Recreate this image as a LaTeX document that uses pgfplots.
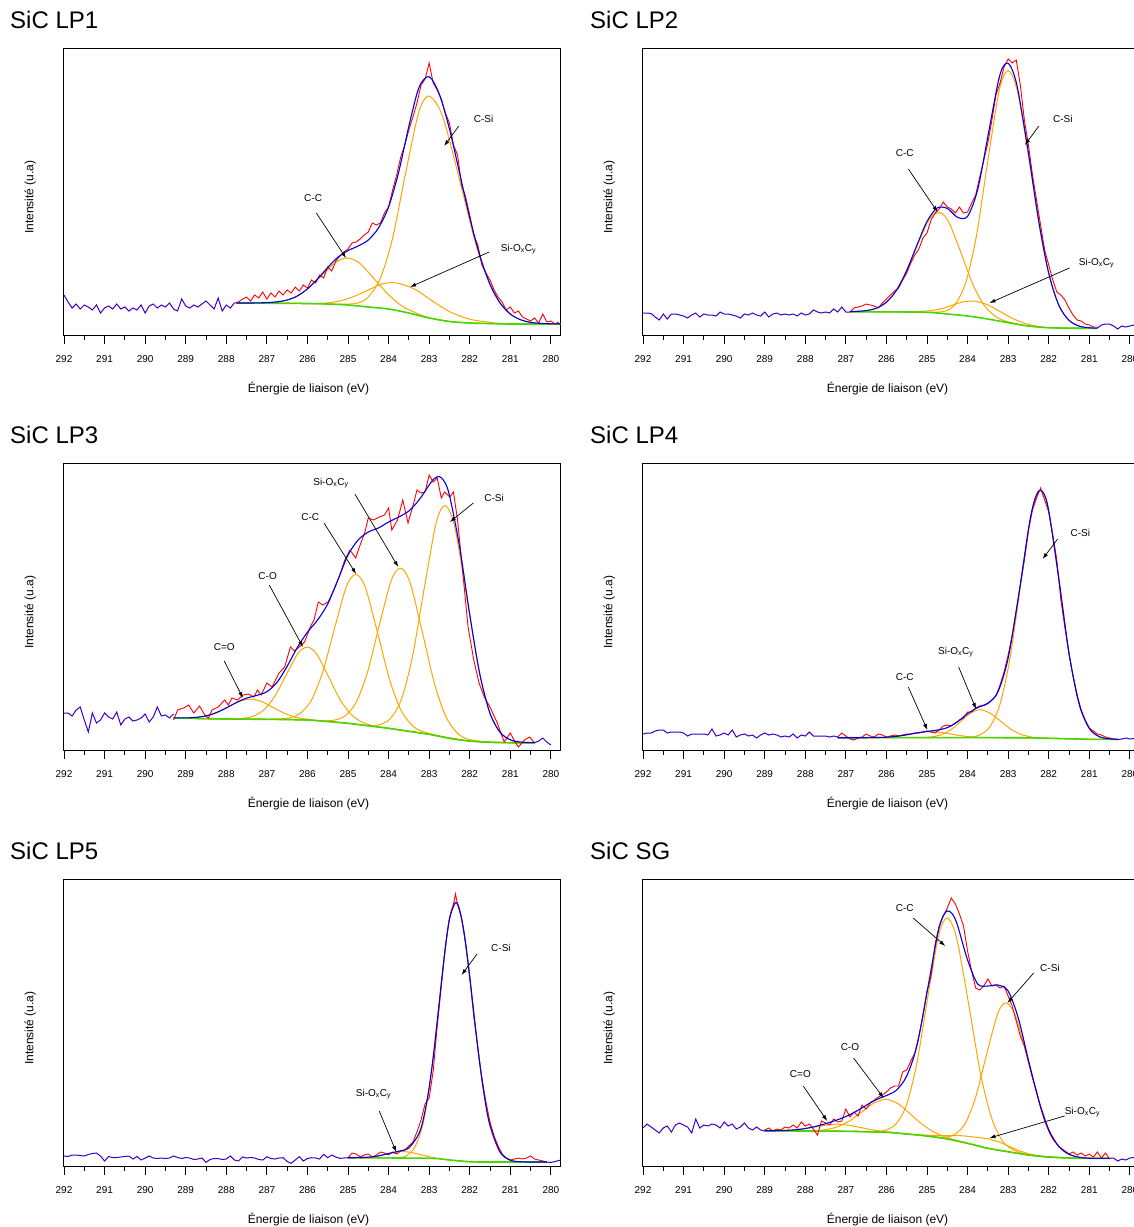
\documentclass[border=0pt]{standalone}
\usepackage{fontspec}
\setmainfont{Liberation Sans}
\usepackage{pgfplots}
\pgfplotsset{compat=1.18}
\usetikzlibrary{arrows.meta}
\definecolor{cred}{RGB}{255,0,0}
\definecolor{cblue}{RGB}{0,0,230}
\definecolor{cnoise}{RGB}{60,0,200}
\definecolor{corange}{RGB}{255,165,0}
\definecolor{cgreen}{RGB}{70,215,0}
\pgfplotsset{
  panel/.style={
    anchor=south west,
    width=497pt, height=287pt, scale only axis,
    xmin=279.75, xmax=292, x dir=reverse,
    ymin=0, ymax=287,
    xtick={280,281,...,292},
    minor x tick num=1,
    ytick=\empty,
    xtick pos=left,
    tick align=outside,
    major tick length=9pt, minor tick length=5pt,
    tick style={black, line width=0.8pt},
    axis line style={line width=1pt},
    xticklabel style={font=\fontsize{10}{12}\selectfont, anchor=north, yshift=-8pt},
    /pgf/number format/assume math mode=true,
    xlabel={Énergie de liaison (eV)},
    ylabel={Intensité (u.a)},
    xlabel style={font=\fontsize{12}{14}\selectfont, at={(axis description cs:0.492,-0.185)}, anchor=center},
    ylabel style={font=\fontsize{12}{14}\selectfont, at={(axis description cs:-0.068,0.48)}, anchor=center},
  },
  comp/.style={corange, line width=1pt, smooth},
  bgl/.style={cgreen, line width=1.6pt, smooth},
  dat/.style={cred, line width=0.9pt},
  env/.style={cblue, line width=1.1pt, smooth},
  noi/.style={cnoise, line width=1pt},
}
\tikzset{
  ann/.style={font=\fontsize{10}{12}\selectfont},
  arr/.style={-{Latex[length=6pt,width=4pt]}, line width=0.7pt},
  ttl/.style={anchor=west, font=\fontsize{24}{28}\selectfont, inner sep=0pt},
}
\begin{document}
\begin{tikzpicture}
\useasboundingbox (0pt,0pt) rectangle (1134pt,-1227pt);
\clip (0pt,0pt) rectangle (1134pt,-1227pt);
\node[ttl] at (10pt,-20pt) {SiC LP1};
\node[ttl] at (590pt,-20pt) {SiC LP2};
\node[ttl] at (10pt,-435pt) {SiC LP3};
\node[ttl] at (590pt,-435pt) {SiC LP4};
\node[ttl] at (10pt,-851pt) {SiC LP5};
\node[ttl] at (590pt,-851pt) {SiC SG};

% ---------------- LP1 ----------------
\begin{axis}[panel, at={(64pt,-335pt)}]
\addplot[comp] coordinates {(287.75,32) (286.5,31.8) (285.4,30.9) (284.8,31.6) (284.5,38) (284.2,57) (283.9,97) (283.6,158) (283.3,216) (283.15,233.4) (283.0,239) (282.8,230.3) (282.6,210) (282.2,147) (281.8,84) (281.4,41.5) (281.0,21) (280.6,13.4) (280.2,11.1) (279.75,11)};
\addplot[comp] coordinates {(287.75,32) (287,32) (286.625,33.7) (286.3,37.8) (285.975,46.8) (285.65,59.5) (285.325,72) (285.16,75.8) (285,77) (284.84,74.9) (284.675,70.5) (284.35,56) (284.025,41.3) (283.7,29.8) (283.375,23) (283.05,17.9) (282.5,13.5) (282,12) (281,11) (279.75,11)};
\addplot[comp] coordinates {(287.75,32) (286.5,31.8) (285.9,31.3) (285.55,31.9) (285.2,34.1) (284.85,38.6) (284.5,45) (284.15,51.2) (283.8,52) (283.35,45.7) (282.9,33.5) (282.45,22.4) (282,15.8) (281.55,12.9) (281.1,11.3) (279.75,11)};
\addplot[bgl] coordinates {(287.75,32) (286,31.5) (285.5,31) (285,30) (284.5,28) (284,26) (283.5,22) (283,17) (282.5,13.5) (282,12) (281.5,11.5) (281,11) (279.75,11)};
\addplot[dat] coordinates {(287.8,32) (287.7,33) (287.6,36) (287.5,38) (287.4,34) (287.3,40) (287.2,37) (287.1,43) (287.0,36) (286.9,42) (286.8,38) (286.7,44) (286.6,40) (286.5,45) (286.4,42) (286.3,48) (286.2,44) (286.1,50) (286.0,47) (285.9,55) (285.8,52) (285.7,60) (285.6,57) (285.5,68) (285.4,64) (285.3,74) (285.2,79) (285.1,83) (285.0,86) (284.9,92) (284.8,93) (284.7,96) (284.6,100) (284.5,103) (284.4,112) (284.3,110) (284.2,112) (284.1,122) (284.0,128) (283.9,145) (283.8,160) (283.7,178) (283.6,190) (283.5,205) (283.4,218) (283.3,232) (283.2,250) (283.1,256) (283.0,272) (282.9,252) (282.8,245) (282.7,236) (282.6,222) (282.5,212) (282.4,190) (282.3,180) (282.2,150) (282.1,138) (282.0,120) (281.9,100) (281.8,90) (281.7,70) (281.6,62) (281.5,55) (281.4,45) (281.3,38) (281.2,33) (281.1,25) (281.0,28) (280.9,22) (280.8,24) (280.7,18) (280.6,16) (280.5,14) (280.4,17) (280.3,12) (280.2,21) (280.1,13) (280.0,14) (279.9,11) (279.8,13)};
\addplot[noi] coordinates {(292.0,40) (291.9,33) (291.8,27) (291.7,31) (291.6,26) (291.5,30) (291.4,28) (291.3,25) (291.2,30) (291.1,22) (291.0,27) (290.9,29) (290.8,26) (290.7,31) (290.6,26) (290.5,28) (290.4,24) (290.3,27) (290.2,25) (290.1,30) (290.0,22) (289.9,29) (289.8,31) (289.7,27) (289.6,30) (289.5,28) (289.4,32) (289.3,26) (289.2,24) (289.1,36) (289.0,29) (288.9,27) (288.8,30) (288.7,28) (288.6,31) (288.5,34) (288.4,30) (288.3,26) (288.2,37) (288.1,24) (288.0,30) (287.9,27) (287.8,32)};
\addplot[env] coordinates {(287.75,32) (287.5,32) (287.25,32.1) (287,32.4) (286.75,33.2) (286.5,35) (286.25,39) (286,46.1) (285.75,56) (285.5,67.5) (285.25,77.7) (285,84.4) (284.75,89) (284.5,95) (284.25,107) (284,128) (283.75,163) (283.5,208.8) (283.25,247.5) (283,258.3) (282.75,240.9) (282.5,206.1) (282.25,162.1) (282,117.5) (281.75,79.3) (281.5,50.8) (281.25,32) (281,21) (280.75,15.3) (280.5,12.7) (280.25,11.6) (280,11.2) (279.75,11)};
\node[ann] at (axis cs:281.66,216) {C-Si};
\draw[arr] (axis cs:282.27,209) -- (axis cs:282.63,189);
\node[ann] at (axis cs:285.86,137) {C-C};
\draw[arr] (axis cs:285.78,122) -- (axis cs:285.05,77);
\node[ann] at (axis cs:280.8,86) {Si-O\textsubscript{x}C\textsubscript{y}};
\draw[arr] (axis cs:281.52,83) -- (axis cs:283.47,48);
\end{axis}

% ---------------- LP2 ----------------
\begin{axis}[panel, at={(643pt,-335pt)}]
\addplot[comp] coordinates {(286.9,23.3) (286,23.2) (285,22.7) (284.56,23.8) (284.3,31.1) (284.04,53) (283.78,99.5) (283.52,169.1) (283.26,236.3) (283.13,257.2) (283,264.3) (282.857,255.5) (282.715,232.7) (282.43,161.8) (282.145,89.6) (281.86,41.2) (281.575,18) (281.29,9.6) (281,6.8) (280.8,6.7)};
\addplot[comp] coordinates {(286.9,23.3) (286.5,24.3) (286.2,27.6) (285.9,36.7) (285.6,55.8) (285.3,84.1) (285.0,111.8) (284.85,119.9) (284.7,122.5) (284.5625,119.1) (284.425,109.8) (284.15,80.9) (283.875,51.1) (283.6,30.2) (283.325,19) (283.05,13.7) (282.5,9) (282,7.3) (281,6.7) (280.8,6.7)};
\addplot[comp] coordinates {(286.9,23.3) (286,23.2) (285.5,22.9) (285.175,23.5) (284.9,24.5) (284.625,26.5) (284.35,30.2) (284.075,33.4) (283.8,33.7) (283.5,30.1) (283.2,23.5) (282.9,16.8) (282.6,11.8) (282.3,8.9) (282,7.4) (281,6.7) (280.8,6.7)};
\addplot[bgl] coordinates {(286.9,23.3) (286,23.2) (285,22.7) (284.5,21) (284,19) (283.5,16) (283,12.3) (282.5,9) (282,7.3) (281.5,6.8) (281,6.7) (280.8,6.7)};
\addplot[dat] coordinates {(286.9,23) (286.8,27) (286.7,28) (286.6,29) (286.5,31) (286.4,30) (286.3,29) (286.2,27) (286.1,32) (286.0,36) (285.9,40) (285.8,44) (285.7,47) (285.6,55) (285.5,62) (285.4,72) (285.3,80) (285.2,86) (285.1,97) (285.0,102) (284.9,115) (284.8,122) (284.7,126) (284.6,133) (284.5,128) (284.4,126) (284.3,122) (284.2,128) (284.1,122) (284.0,123) (283.9,132) (283.8,140) (283.7,158) (283.6,175) (283.5,192) (283.4,215) (283.3,240) (283.2,252) (283.1,268) (283.0,276) (282.9,272) (282.8,275) (282.7,250) (282.6,215) (282.5,190) (282.4,160) (282.3,135) (282.2,110) (282.1,85) (282.0,70) (281.9,55) (281.8,43) (281.7,40) (281.6,35) (281.5,27) (281.4,20) (281.3,15) (281.2,14) (281.1,11) (281.0,10) (280.9,8) (280.8,8)};
\addplot[noi] coordinates {(292.0,22) (291.9,22) (291.8,21.5) (291.7,18) (291.6,15) (291.5,21) (291.4,16) (291.3,21) (291.2,21) (291.1,20) (291.0,19) (290.9,17) (290.8,20) (290.7,22) (290.6,18) (290.5,21) (290.4,20) (290.3,20) (290.2,19) (290.1,23) (290.0,21) (289.9,21) (289.8,20) (289.7,19) (289.6,17) (289.5,21) (289.4,20) (289.3,22) (289.2,20) (289.1,19) (289.0,23) (288.9,18) (288.8,21) (288.7,22) (288.6,20) (288.5,21) (288.4,20) (288.3,21) (288.2,19) (288.1,22) (288.0,20) (287.9,21) (287.8,25) (287.7,23) (287.6,22) (287.5,23) (287.4,22) (287.3,26) (287.2,23) (287.1,28) (287.0,23) (286.9,23)};
\addplot[noi] coordinates {(280.8,7) (280.7,10) (280.6,11) (280.5,11) (280.4,9) (280.3,6) (280.2,9) (280.1,8) (280.0,9) (279.9,10) (279.8,11) (279.75,11)};
\addplot[env] coordinates {(286.9,23.4) (286.75,23.6) (286.5,24.4) (286.25,26.8) (286,32.8) (285.75,44.8) (285.5,64.5) (285.25,89.6) (285,113.5) (284.75,127) (284.5,126.6) (284.25,117.8) (284,118.7) (283.75,145.6) (283.5,198.5) (283.25,252.2) (283.125,268.4) (283,271.8) (282.875,262.7) (282.75,243.1) (282.5,182.1) (282.25,114.6) (282,61.7) (281.75,29.7) (281.5,14.7) (281.25,8.9) (281,7.25) (280.8,6.8)};
\node[ann] at (axis cs:281.65,216) {C-Si};
\draw[arr] (axis cs:282.24,209) -- (axis cs:282.59,190);
\node[ann] at (axis cs:285.55,182) {C-C};
\draw[arr] (axis cs:285.46,166) -- (axis cs:284.74,123);
\node[ann] at (axis cs:280.82,72) {Si-O\textsubscript{x}C\textsubscript{y}};
\draw[arr] (axis cs:281.49,67) -- (axis cs:283.46,32);
\end{axis}

% ---------------- LP3 ----------------
\begin{axis}[panel, at={(64pt,-750pt)}]
\addplot[comp] coordinates {(289.3,32) (289.05,32) (288.775,32.5) (288.5,34.1) (288.225,37.7) (287.95,43.1) (287.675,48.5) (287.4,50.9) (287.125,48.4) (286.85,42.7) (286.575,36.9) (286.3,32.9) (286.025,30.9) (285.75,29.5) (285,26.7) (284,21.7) (283,15.7) (282,9) (281,7.3) (280.4,7.3)};
\addplot[comp] coordinates {(289.3,32) (288,31) (287.59,31.7) (287.325,34) (287.06,40.6) (286.795,54.3) (286.53,74.7) (286.265,94.6) (286.1325,100.8) (286.0,103) (285.8675,100.3) (285.735,93.6) (285.47,72.7) (285.205,51.1) (284.94,36.3) (284.675,28.3) (284.41,24.6) (284,21.7) (283,15.7) (282,9) (281,7.3) (280.4,7.3)};
\addplot[comp] coordinates {(289.3,32) (288,31) (287,30.7) (286.45,32) (286.175,36.8) (285.9,50) (285.625,77.7) (285.35,119) (285.075,159.3) (284.9375,171.6) (284.8,175.7) (284.6625,170.4) (284.525,156.6) (284.25,114) (283.975,70.4) (283.7,40.2) (283.425,24.9) (283.15,18.3) (282.5,11.7) (282,9) (281,7.3) (280.4,7.3)};
\addplot[comp] coordinates {(289.3,32) (288,31) (287,30.7) (286,30) (285.7,29.1) (285.35,29.8) (285.075,34.1) (284.8,47.6) (284.525,77) (284.25,121.3) (283.975,164.5) (283.8375,177.8) (283.7,181.9) (283.5625,176) (283.425,161.4) (283.15,114.9) (282.875,67.4) (282.6,34.4) (282.325,17.8) (282.05,10.9) (281.5,7.7) (281,7.3) (280.4,7.3)};
\addplot[comp] coordinates {(289.3,32) (288,31) (287,30.7) (286,30) (285,26.7) (284.5,24.2) (284.22,25.4) (283.95,31.6) (283.68,51.1) (283.41,93.6) (283.14,157.2) (282.87,219.2) (282.735,238.4) (282.6,244.5) (282.465,236.1) (282.33,215.2) (282.06,150.1) (281.79,83.8) (281.52,39) (281.25,17.7) (280.98,9.9) (280.7,7.5) (280.4,7.3)};
\addplot[bgl] coordinates {(289.3,32) (288,31) (287,30.7) (286,30) (285.5,28.5) (285,26.7) (284.5,24.2) (284,21.7) (283.5,18.7) (283,15.7) (282.5,11.7) (282,9) (281.5,7.7) (281,7.3) (280.4,7.3)};
\addplot[dat] coordinates {(289.3,30) (289.2,40) (289.05,42) (288.93,45) (288.8,37) (288.66,44) (288.53,35) (288.44,32) (288.35,40) (288.2,43) (288.04,50) (287.95,45) (287.86,52) (287.72,50) (287.59,55) (287.45,56) (287.32,53) (287.23,60) (287.14,55) (287.0,67) (286.87,63) (286.7,77) (286.56,83) (286.42,103) (286.32,99) (286.2,103) (286.07,108) (285.93,123) (285.84,130) (285.73,148) (285.62,145) (285.49,148) (285.35,160) (285.22,173) (285.08,190) (284.95,200) (284.81,192) (284.72,203) (284.59,217) (284.5,232) (284.37,230) (284.23,233) (284.1,235) (284.0,242) (283.92,220) (283.78,230) (283.65,250) (283.52,227) (283.38,247) (283.3,260) (283.2,257) (283.1,258) (283.0,275) (282.9,268) (282.8,272) (282.7,252) (282.62,258) (282.49,253) (282.4,258) (282.3,230) (282.17,177) (282.04,123) (281.9,90) (281.77,67) (281.64,53) (281.5,43) (281.32,27) (281.15,8) (281.0,17) (280.88,8) (280.8,3) (280.65,10) (280.52,13) (280.4,7)};
\addplot[noi] coordinates {(292.0,37) (291.9,37) (291.8,34) (291.7,40) (291.6,43) (291.5,30) (291.4,18) (291.3,37) (291.2,27) (291.1,30) (291.0,37) (290.9,33) (290.8,31) (290.7,38) (290.6,25) (290.5,31) (290.4,33) (290.3,29) (290.2,30) (290.1,32) (290.0,36) (289.9,28) (289.8,33) (289.7,43) (289.6,34) (289.5,35) (289.4,32) (289.3,36)};
\addplot[noi] coordinates {(280.4,7.3) (280.3,9) (280.2,12) (280.1,8) (280.0,5)};
\addplot[env] coordinates {(289.3,32.1) (289,32.1) (288.75,32.6) (288.5,34.1) (288.25,37.3) (288,42.1) (287.75,47.5) (287.5,51.9) (287.25,54.6) (287,58.3) (286.75,67.6) (286.5,83.7) (286.25,102.4) (286,117.8) (285.75,130) (285.5,146) (285.25,170) (285,195) (284.75,210) (284.5,218) (284.25,222) (284,228) (283.75,233) (283.5,239) (283.25,250) (283,265) (282.875,271.4) (282.75,273.5) (282.625,268.5) (282.5,254.8) (282.25,203.5) (282,135.7) (281.75,75.7) (281.5,36.7) (281.25,17.7) (281,10.2) (280.75,7.95) (280.5,7.4) (280.4,7.3)};
\node[ann] at (axis cs:281.4,252) {C-Si};
\draw[arr] (axis cs:281.91,247) -- (axis cs:282.49,228);
\node[ann] at (axis cs:285.42,267) {Si-O\textsubscript{x}C\textsubscript{y}};
\draw[arr] (axis cs:284.83,256) -- (axis cs:283.76,183);
\node[ann] at (axis cs:285.93,233) {C-C};
\draw[arr] (axis cs:285.59,227) -- (axis cs:284.8,176);
\node[ann] at (axis cs:286.98,174) {C-O};
\draw[arr] (axis cs:286.94,165) -- (axis cs:286.11,103);
\node[ann] at (axis cs:288.05,103) {C=O};
\draw[arr] (axis cs:288.05,89) -- (axis cs:287.59,52);
\end{axis}

% ---------------- LP4 ----------------
\begin{axis}[panel, at={(643pt,-750pt)}]
\addplot[comp] coordinates {(287.2,12.3) (286.4,12.3) (286.15,12.6) (285.9,13.1) (285.65,14.25) (285.4,15.9) (285.15,17.6) (284.9,18.3) (284.65,17.6) (284.4,15.9) (284.15,14.25) (283.9,13.1) (283.65,12.6) (283.4,12.3) (282,11.7) (281,10.7) (280.3,10.7)};
\addplot[comp] coordinates {(287.2,12.3) (285.5,12.3) (285.05,12.6) (284.825,13.5) (284.6,16.1) (284.375,21.4) (284.15,29.3) (283.925,36.9) (283.7,40.3) (283.45,37) (283.2,29.3) (282.95,21.3) (282.7,15.9) (282.45,13.2) (282.2,12.1) (281,10.7) (280.3,10.7)};
\addplot[comp] coordinates {(287.2,12.3) (284.5,12.3) (283.95,12.8) (283.7,15) (283.45,23.2) (283.2,45.8) (282.95,92.8) (282.7,162.6) (282.45,230.7) (282.325,252.2) (282.2,259.8) (282.08,252) (281.96,230.3) (281.72,161.9) (281.48,91.8) (281.24,44.5) (281,21.6) (280.76,13.4) (280.52,11.2) (280.3,10.7)};
\addplot[bgl] coordinates {(287.2,12.3) (283,12.3) (282,11.7) (281,10.7) (280.3,10.7)};
\addplot[dat] coordinates {(287.2,13) (287.1,17) (287.0,14) (286.9,11) (286.8,10) (286.7,12) (286.6,13) (286.5,16) (286.4,14) (286.3,13) (286.2,16) (286.1,15) (286.0,13) (285.9,14) (285.8,15) (285.7,14) (285.6,15) (285.5,16) (285.4,16) (285.3,17) (285.2,17) (285.1,18) (285.0,19) (284.9,18) (284.8,17) (284.7,20) (284.6,24) (284.5,25) (284.4,24) (284.3,27) (284.2,30) (284.1,32) (284.0,38) (283.9,38) (283.8,42) (283.7,44) (283.6,45) (283.5,47) (283.4,50) (283.3,54) (283.2,65) (283.1,78) (283.0,95) (282.9,115) (282.8,140) (282.7,165) (282.6,190) (282.5,220) (282.4,240) (282.3,252) (282.2,262) (282.1,250) (282.0,238) (281.9,215) (281.8,190) (281.7,150) (281.6,122) (281.5,96) (281.4,74) (281.3,55) (281.2,40) (281.1,30) (281.0,22) (280.9,19) (280.8,16) (280.7,15) (280.6,13) (280.5,12) (280.4,11) (280.3,10)};
\addplot[noi] coordinates {(292.0,16) (291.9,17) (291.8,17) (291.7,19) (291.6,20) (291.5,20) (291.4,17) (291.3,18) (291.2,18) (291.1,18) (291.0,17) (290.9,14) (290.8,16) (290.7,16) (290.6,16) (290.5,16) (290.4,15) (290.3,21) (290.2,14) (290.1,15) (290.0,17) (289.9,15) (289.8,20) (289.7,13) (289.6,15) (289.5,16) (289.4,14) (289.3,15) (289.2,12) (289.1,15) (289.0,17) (288.9,15) (288.8,16) (288.7,15) (288.6,13) (288.5,14) (288.4,13) (288.3,16) (288.2,12) (288.1,15) (288.0,14) (287.9,18) (287.8,14) (287.7,14) (287.6,14) (287.5,14) (287.4,13) (287.3,14) (287.2,13)};
\addplot[noi] coordinates {(280.3,10.5) (280.2,11) (280.1,12) (280.0,11) (279.9,11.5) (279.8,12)};
\addplot[env] coordinates {(287.2,12.3) (287,12.3) (286.5,12.3) (286.25,12.5) (286,12.8) (285.75,13.7) (285.5,15.2) (285.25,17.1) (285,18.6) (284.75,19.9) (284.5,22.4) (284.25,28.2) (284,36.3) (283.75,42.5) (283.5,46.6) (283.25,58.3) (283,91.7) (282.75,152.1) (282.5,220.7) (282.375,246.1) (282.25,259) (282.125,256.8) (282,239.2) (281.75,171.1) (281.5,96.8) (281.25,46) (281,21.6) (280.75,13.3) (280.5,11.2) (280.3,10.7)};
\node[ann] at (axis cs:281.22,217) {C-Si};
\draw[arr] (axis cs:281.78,211) -- (axis cs:282.15,191);
\node[ann] at (axis cs:284.29,98) {Si-O\textsubscript{x}C\textsubscript{y}};
\draw[arr] (axis cs:284.22,83) -- (axis cs:283.79,41);
\node[ann] at (axis cs:285.55,73) {C-C};
\draw[arr] (axis cs:285.46,63) -- (axis cs:284.99,20);
\end{axis}

% ---------------- LP5 ----------------
\begin{axis}[panel, at={(64pt,-1166pt)}]
\addplot[comp] coordinates {(285,8.3) (284.45,9) (284.25,10.1) (284.05,12) (283.85,13.7) (283.65,14.5) (283.45,13.6) (283.25,11.75) (283.05,9.8) (282.85,8.1) (282.65,6.8) (282.45,5.9) (282,4.3) (281.5,4) (280.1,4)};
\addplot[comp] coordinates {(285,8.3) (284.5,8.1) (283.75,8.4) (283.55,10.6) (283.35,19.2) (283.15,42.5) (282.95,91.5) (282.75,163.5) (282.55,233.7) (282.45,255.8) (282.35,263.5) (282.2425,255.1) (282.135,232.5) (281.92,160.9) (281.705,88) (281.49,38.8) (281.275,15.4) (281.06,6.8) (280.845,4.5) (280.1,4)};
\addplot[bgl] coordinates {(285,8.3) (283,7.7) (282.5,6) (282,4.3) (281.5,4) (280.1,4)};
\addplot[dat] coordinates {(285.0,8) (284.9,13) (284.8,12) (284.7,9) (284.6,11) (284.5,12) (284.4,9) (284.3,11) (284.2,14) (284.1,13) (284.0,11) (283.9,14) (283.8,12) (283.7,15) (283.6,16) (283.5,20) (283.4,24) (283.3,34) (283.2,46) (283.1,62) (283.0,68) (282.9,95) (282.8,140) (282.7,180) (282.6,220) (282.5,248) (282.4,262) (282.35,272) (282.3,262) (282.2,248) (282.1,222) (282.0,190) (281.9,150) (281.8,118) (281.7,88) (281.6,64) (281.5,44) (281.4,30) (281.3,20) (281.2,12) (281.1,8) (281.0,6) (280.9,7) (280.8,8) (280.7,7) (280.6,8) (280.5,10) (280.4,7) (280.3,6) (280.2,5) (280.1,4)};
\addplot[noi] coordinates {(292.0,10) (291.9,9.5) (291.8,11) (291.7,11) (291.6,10.5) (291.5,10) (291.4,11.5) (291.3,12.5) (291.2,13) (291.1,10) (291.0,5) (290.9,9.5) (290.8,8.5) (290.7,8.5) (290.6,9) (290.5,9.5) (290.4,10) (290.3,7) (290.2,9.5) (290.1,6) (290.0,8) (289.9,10) (289.8,8) (289.7,7.5) (289.6,8) (289.5,7.5) (289.4,8) (289.3,10) (289.2,8.5) (289.1,7.5) (289.0,8.5) (288.9,8) (288.8,6.5) (288.7,7) (288.6,8) (288.5,3.7) (288.4,6.5) (288.3,7.5) (288.2,7.5) (288.1,6.5) (288.0,7) (287.9,10) (287.8,6) (287.7,5) (287.6,9) (287.5,8) (287.4,8.5) (287.3,8) (287.2,6.5) (287.1,6) (287.0,9.3) (286.9,7.5) (286.8,7) (286.7,8) (286.6,8.3) (286.5,4.5) (286.4,2.7) (286.3,6) (286.2,9.3) (286.1,5) (286.0,7.5) (285.9,8.3) (285.8,8) (285.7,7) (285.6,11.7) (285.5,8.3) (285.4,11) (285.3,9) (285.2,7.7) (285.1,8) (285.0,8.3)};
\addplot[noi] coordinates {(280.1,4) (280.0,3.5) (279.9,4.5) (279.8,5.5) (279.75,6)};
\addplot[env] coordinates {(285,8.3) (284.75,8.35) (284.5,8.8) (284.25,10.1) (284,12.5) (283.75,14.8) (283.5,18.1) (283.25,32.4) (283.125,50.2) (283,78.4) (282.875,117.3) (282.75,164) (282.625,210.2) (282.5,246.6) (282.35,263.5) (282.25,256.1) (282.125,229.7) (282,189.5) (281.875,144.2) (281.75,101.7) (281.625,66.3) (281.5,40.6) (281.25,13.8) (281,5.9) (280.75,4.25) (280.5,4) (280.1,4)};
\node[ann] at (axis cs:281.23,218) {C-Si};
\draw[arr] (axis cs:281.82,212) -- (axis cs:282.2,191);
\node[ann] at (axis cs:284.37,72) {Si-O\textsubscript{x}C\textsubscript{y}};
\draw[arr] (axis cs:284.23,55) -- (axis cs:283.81,14);
\end{axis}

% ---------------- SG ----------------
\begin{axis}[panel, at={(643pt,-1166pt)}]
\addplot[comp] coordinates {(289,35.3) (288.575,35.5) (288.3,36) (288.025,37.3) (287.75,39.1) (287.475,41) (287.2,41.8) (286.925,40.8) (286.65,38.6) (286.375,36.4) (286.1,34.7) (285.825,33.5) (285.5,32) (285,30) (284.5,27) (284,22.7) (283.5,17.7) (283,14.3) (282.5,11) (282,9) (281.5,8) (281,7.7) (280.5,7.7)};
\addplot[comp] coordinates {(289,35.3) (288.5,35.15) (287.8,35.3) (287.5,36.3) (287.2,39.3) (286.9,45.3) (286.6,54.3) (286.3,63.1) (286.0,66.7) (285.7,61.9) (285.4,51.6) (285.1,41.1) (284.8,33.4) (284.5,28.5) (284.2,25) (283.5,17.7) (283,14.3) (282.5,11) (282,9) (281.5,8) (281,7.7) (280.5,7.7)};
\addplot[comp] coordinates {(289,35.3) (288,35) (287,34.7) (286.25,34.5) (286,36.1) (285.75,42.7) (285.5,61.8) (285.25,102.8) (285,164.1) (284.75,223.5) (284.625,241.9) (284.5,248) (284.3625,240) (284.225,219.7) (283.95,156.3) (283.675,91.2) (283.4,47.1) (283.125,24.3) (282.85,15.7) (282.575,12) (282,9) (281,7.7) (280.5,7.7)};
\addplot[comp] coordinates {(289,35.3) (287,34.7) (286,33.7) (285,30) (284.55,28.8) (284.3,32) (284.05,43.2) (283.8,68.9) (283.55,108.6) (283.3,147.1) (283.175,159.4) (283.05,163.2) (282.9075,157.7) (282.765,143.9) (282.48,101.4) (282.195,58.2) (281.91,28.9) (281.625,14.8) (281.34,9.5) (281,7.7) (280.5,7.7)};
\addplot[comp] coordinates {(289,35.3) (287,34.7) (286,33.7) (285.6,32.4) (285.25,31.4) (284.9,30.7) (284.55,30.4) (284.2,30.4) (283.85,29.1) (283.5,27.2) (283.25,24.4) (283,20.1) (282.75,15.7) (282.5,12.3) (282.25,10.4) (282,9) (281,7.7) (280.5,7.7)};
\addplot[bgl] coordinates {(289,35.3) (288,35) (287,34.7) (286,33.7) (285.5,32) (285,30) (284.5,27) (284,22.7) (283.5,17.7) (283,14.3) (282.5,11) (282,9) (281.5,8) (281,7.7) (280.5,7.7)};
\addplot[dat] coordinates {(289.0,36) (288.9,38) (288.8,35) (288.7,37) (288.6,36) (288.5,39) (288.4,38) (288.3,41) (288.2,38) (288.1,44) (288.0,40) (287.9,42) (287.8,37) (287.7,31) (287.6,45) (287.5,43) (287.4,41) (287.3,47) (287.2,44) (287.1,45) (287.0,57) (286.9,49) (286.8,54) (286.7,50) (286.6,61) (286.5,57) (286.4,63) (286.3,66) (286.2,69) (286.1,71) (286.0,74) (285.9,78) (285.8,80) (285.7,80) (285.6,94) (285.5,96) (285.4,105) (285.3,113) (285.2,130) (285.1,150) (285.0,175) (284.9,190) (284.8,222) (284.7,240) (284.6,250) (284.5,258) (284.4,268) (284.3,262) (284.2,252) (284.1,240) (284.0,215) (283.9,195) (283.8,178) (283.7,176) (283.6,180) (283.5,187) (283.4,180) (283.3,181) (283.2,178) (283.1,180) (283.0,170) (282.9,160) (282.8,145) (282.7,130) (282.6,120) (282.5,104) (282.4,88) (282.3,75) (282.2,58) (282.1,45) (282.0,35) (281.9,27) (281.8,22) (281.7,18) (281.6,15) (281.5,12) (281.4,14) (281.3,11) (281.2,13) (281.1,10) (281.0,12) (280.9,9) (280.8,14) (280.7,8) (280.6,13) (280.5,7)};
\addplot[noi] coordinates {(292.0,38) (291.9,42) (291.8,39) (291.7,36) (291.6,33) (291.5,38) (291.4,40) (291.3,34) (291.2,41) (291.1,43) (291.0,41) (290.9,39) (290.8,33) (290.7,47) (290.6,38) (290.5,41) (290.4,40) (290.3,42) (290.2,41) (290.1,38) (290.0,44) (289.9,40) (289.8,42) (289.7,37) (289.6,39) (289.5,43) (289.4,38) (289.3,36) (289.2,39) (289.1,36) (289.0,35)};
\addplot[noi] coordinates {(280.5,7.7) (280.4,8) (280.3,5) (280.2,7) (280.1,6) (280.0,8) (279.9,8.5) (279.8,9)};
\addplot[env] coordinates {(289,35.3) (288.75,35.3) (288.5,35.6) (288.25,36.2) (288,37.5) (287.75,39.6) (287.5,42.35) (287.25,45.6) (287,49.5) (286.75,54.6) (286.5,60.7) (286.25,66.4) (286,70.5) (285.75,76) (285.5,90) (285.25,120) (285,173.4) (284.75,229.65) (284.625,247.9) (284.5,255.1) (284.375,252) (284.25,241) (284,206) (283.75,182) (283.5,180) (283.25,181) (283,175) (282.75,148) (282.5,106) (282.25,66.3) (282,36.3) (281.75,19.5) (281.5,11.7) (281.25,8.8) (281,7.75) (280.75,7.7) (280.5,7.7)};
\node[ann] at (axis cs:285.55,258) {C-C};
\draw[arr] (axis cs:285.34,248) -- (axis cs:284.55,220);
\node[ann] at (axis cs:281.97,198) {C-Si};
\draw[arr] (axis cs:282.37,193) -- (axis cs:283.02,163);
\node[ann] at (axis cs:286.9,119) {C-O};
\draw[arr] (axis cs:286.81,108) -- (axis cs:286.07,68);
\node[ann] at (axis cs:288.12,92) {C=O};
\draw[arr] (axis cs:288.05,80) -- (axis cs:287.46,45);
\node[ann] at (axis cs:281.17,54) {Si-O\textsubscript{x}C\textsubscript{y}};
\draw[arr] (axis cs:281.61,50) -- (axis cs:283.46,28);
\end{axis}
\end{tikzpicture}
\end{document}
